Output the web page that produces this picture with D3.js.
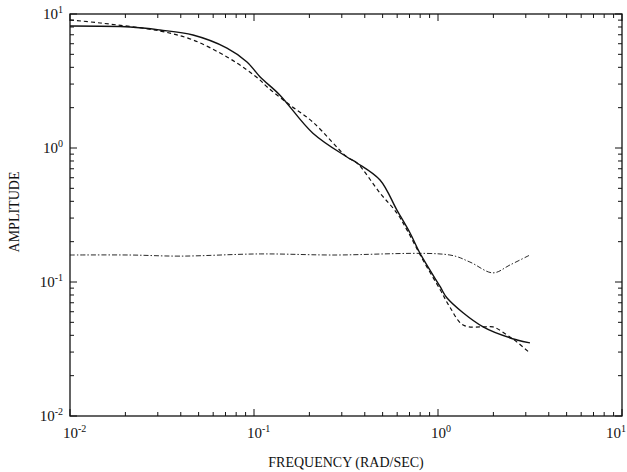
<!DOCTYPE html>
<html>
<head>
<meta charset="utf-8">
<script src="https://cdn.jsdelivr.net/npm/d3@7"></script>
<style>
  body { margin: 0; background: #fff; }
  text { font-family: "Liberation Serif", "DejaVu Serif", serif; fill: #111; }
</style>
</head>
<body>
<div id="chart"></div>
<script>
// solid curve
var freqSolid = [0.01, 0.0212, 0.0308, 0.0466, 0.0713, 0.0916, 0.108, 0.138, 0.209, 0.32, 0.363, 0.484, 0.598, 0.705, 0.798, 1.03, 1.12, 1.76, 2.69, 3.16]
var ampSolid  = [8.13, 8.0, 7.6, 6.97, 5.57, 4.39, 3.39, 2.49, 1.29, 0.857, 0.773, 0.577, 0.344, 0.232, 0.164, 0.0918, 0.076, 0.0462, 0.0369, 0.0351]
// dashed curve
var freqDash = [0.01, 0.0146, 0.0308, 0.0466, 0.0713, 0.0916, 0.108, 0.118, 0.157, 0.209, 0.32, 0.363, 0.484, 0.598, 0.679, 0.828, 1.03, 1.16, 1.37, 1.76, 1.99, 2.46, 2.69, 3.16]
var ampDash  = [9.02, 8.57, 7.47, 6.40, 4.78, 3.82, 3.21, 2.85, 2.09, 1.56, 0.857, 0.773, 0.461, 0.327, 0.244, 0.146, 0.0871, 0.065, 0.0477, 0.0462, 0.0462, 0.0389, 0.0356, 0.0295]
// dash-dot curve
var freqDot = [0.01, 0.0212, 0.0396, 0.108, 0.259, 1.16, 1.49, 1.99, 2.46, 3.16]
var ampDot  = [0.159, 0.159, 0.156, 0.162, 0.159, 0.159, 0.141, 0.117, 0.134, 0.159]

var xDecades = [-2, -1, 0, 1]
var yDecades = [-2, -1, 0, 1]

var width = 627
    height = 472
    margin = {top: 14, right: 5, bottom: 56, left: 70}

var svg = d3.select("#chart")
  .append("svg")
    .attr("width", width)
    .attr("height", height)

var x = d3.scaleLog().domain([0.01, 10]).range([margin.left, width - margin.right])
var y = d3.scaleLog().domain([0.01, 10]).range([height - margin.bottom, margin.top])

// frame
svg.append("rect")
  .attr("x", x(0.01)).attr("y", y(10))
  .attr("width", x(10) - x(0.01)).attr("height", y(0.01) - y(10))
  .attr("fill", "none").attr("stroke", "#111").attr("stroke-width", 1.3)

// inward ticks on all four sides
var tickVals = []
for (var d = -2; d < 1; d++) {
  for (var m = 1; m < 10; m++) tickVals.push(m * Math.pow(10, d))
}
tickVals.push(10)

var g = svg.append("g").attr("stroke", "#111").attr("stroke-width", 1)
tickVals.forEach(function(v) {
  var len = (Math.abs(Math.log10(v) - Math.round(Math.log10(v))) < 1e-9) ? 7 : 4
  var xx = x(v), yy = y(v)
  g.append("line").attr("x1", xx).attr("x2", xx).attr("y1", y(0.01)).attr("y2", y(0.01) - len)
  g.append("line").attr("x1", xx).attr("x2", xx).attr("y1", y(10)).attr("y2", y(10) + len)
  g.append("line").attr("y1", yy).attr("y2", yy).attr("x1", x(0.01)).attr("x2", x(0.01) + len)
  g.append("line").attr("y1", yy).attr("y2", yy).attr("x1", x(10)).attr("x2", x(10) - len)
})

// tick labels
function powLabel(sel, e) {
  sel.append("tspan").text("10")
  sel.append("tspan").attr("dy", -6).attr("font-size", 10).text(e)
}
xDecades.forEach(function(e) {
  var last = e === xDecades[xDecades.length - 1]
  var t = svg.append("text")
    .attr("x", last ? width - 1 : x(Math.pow(10, e)) - 7)
    .attr("y", y(0.01) + 22)
    .attr("text-anchor", last ? "end" : "start")
    .attr("font-size", 15)
  powLabel(t, e)
})
yDecades.forEach(function(e) {
  var t = svg.append("text")
    .attr("x", x(0.01) - 7).attr("y", y(Math.pow(10, e)) + 5)
    .attr("text-anchor", "end")
    .attr("font-size", 15)
  powLabel(t, e)
})

// axis titles
svg.append("text")
  .attr("x", 346).attr("y", 467)
  .attr("text-anchor", "middle").attr("font-size", 14)
  .text("FREQUENCY (RAD/SEC)")
svg.append("text")
  .attr("transform", "translate(19,212) rotate(-90)")
  .attr("text-anchor", "middle").attr("font-size", 14)
  .text("AMPLITUDE")

// curves
var line = d3.line()
  .x(function(d) { return x(d[0]) })
  .y(function(d) { return y(d[1]) })
  .curve(d3.curveCatmullRom.alpha(0.5))

function draw(fr, am, dash, w) {
  svg.append("path")
    .datum(d3.zip(fr, am))
    .attr("d", line)
    .attr("fill", "none")
    .attr("stroke", "#111")
    .attr("stroke-width", w)
    .attr("stroke-dasharray", dash)
}
draw(freqSolid, ampSolid, null, 1.4)
draw(freqDash, ampDash, "4,3", 1.2)
draw(freqDot, ampDot, "5,2,1.5,2", 0.9)
</script>
</body>
</html>
